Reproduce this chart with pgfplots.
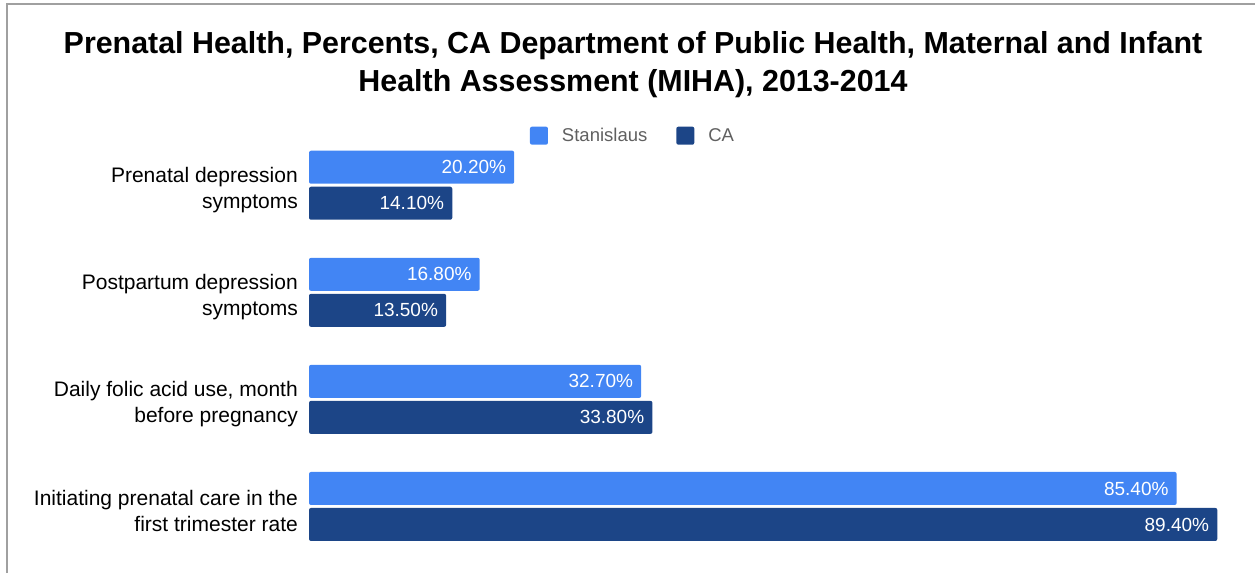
\documentclass[border=0pt]{standalone}
\usepackage{pgfplots}
\pgfplotsset{compat=1.18}
\usepackage{fontspec}
\setmainfont{Liberation Sans}
\definecolor{stan}{HTML}{4285F4}
\definecolor{cablue}{HTML}{1C4587}
\definecolor{framegray}{HTML}{A0A0A0}
\definecolor{legtext}{HTML}{606060}

\begin{document}
\begin{tikzpicture}
\useasboundingbox (0,0) rectangle (1255pt,573pt);
% frame of the chart area
\draw[framegray, line width=2pt] (7pt,0pt) -- (7pt,568.5pt) -- (1255pt,568.5pt);
% title
\node[anchor=base, font=\fontsize{30.4}{38}\selectfont\bfseries] at (633pt,519pt)
  {Prenatal Health, Percents, CA Department of Public Health, Maternal and Infant};
\node[anchor=base, font=\fontsize{30.4}{38}\selectfont\bfseries] at (633pt,481pt)
  {Health Assessment (MIHA), 2013-2014};

\begin{axis}[
  at={(309pt,13pt)}, anchor=south west,
  scale only axis, width=946pt, height=428.3pt,
  xbar, bar width=33pt,
  xmin=0, xmax=93.11, ymin=-0.5, ymax=3.5,
  axis lines=left, axis line style={draw=none},
  xtick=\empty, ytick={0,1,2,3}, major tick length=0pt,
  yticklabels={{Initiating prenatal care in the\\first trimester rate},
               {Daily folic acid use, month\\before pregnancy},
               {Postpartum depression\\symptoms},
               {Prenatal depression\\symptoms}},
  yticklabel style={align=right, font=\fontsize{21}{26}\selectfont, inner sep=0pt, xshift=-11pt, yshift=-5pt},
  /pgf/number format/assume math mode=true,
  point meta=x,
  nodes near coords={\pgfmathprintnumber[fixed,fixed zerofill,precision=2]{\pgfplotspointmeta}\%},
  every node near coord/.append style={anchor=east, text=white, font=\fontsize{19}{22}\selectfont, inner sep=0pt, xshift=-8pt},
  legend columns=2,
  legend style={at={(axis description cs:0.3425,0.9907)}, anchor=center, draw=none, fill=none,
    font=\fontsize{18.5}{22}\selectfont, text=legtext,
    /tikz/every odd column/.append style={column sep=12pt},
    /tikz/every even column/.append style={column sep=27pt}},
  legend image code/.code={\fill[#1] (0pt,-9pt) rectangle (18pt,9pt);},
]
\addplot[fill=stan, draw=none, bar shift=18pt, rounded corners=2pt]
  coordinates {(85.4,0) (32.7,1) (16.8,2) (20.2,3)};
\addplot[fill=cablue, draw=none, bar shift=-18pt, rounded corners=2pt]
  coordinates {(89.4,0) (33.8,1) (13.5,2) (14.1,3)};
\legend{Stanislaus, CA}
\end{axis}
\end{tikzpicture}
\end{document}
